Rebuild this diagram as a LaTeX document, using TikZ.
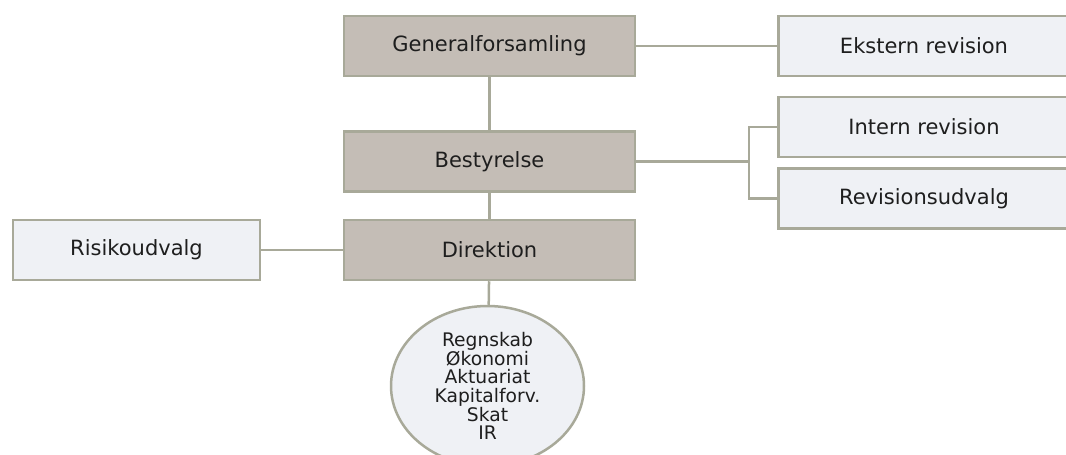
\documentclass[tikz,border=0pt]{standalone}
\usepackage{fontspec}
\setmainfont{DejaVu Sans}
\usetikzlibrary{shapes.geometric}

\definecolor{boardfill}{HTML}{C4BDB6}
\definecolor{sidefill}{HTML}{EFF1F5}
\definecolor{edgegray}{HTML}{A8A999}
\definecolor{txtgray}{HTML}{1E1E1E}

\tikzset{
  orgbox/.style={draw=edgegray, line width=2.5pt, fill=boardfill, text=txtgray,
    minimum width=291pt, minimum height=60pt, inner sep=0pt,
    font=\fontsize{21pt}{25pt}\selectfont},
  sidebox/.style={orgbox, fill=sidefill},
  orgline/.style={draw=edgegray, line width=2.5pt}
}

\begin{document}
\begin{tikzpicture}[x=1pt, y=-1pt]
        % ==== CANVAS ====
        \useasboundingbox (0,0) rectangle (1066,455);

        % ==== MAIN CHAIN ====
        \node[orgbox] (gf) at (489.5,46) {Generalforsamling};
        \node[orgbox] (best) at (489.5,161.5) {Bestyrelse};
        \node[orgbox] (dir) at (489.5,250) {Direktion};

        % ==== SIDE BOXES ====
        \node[sidebox] (ekst) at (924,46) {Ekstern revision};
        \node[sidebox] (intrev) at (924,127) {Intern revision};
        \node[sidebox] (revudv) at (924,198.5) {Revisionsudvalg};
        \node[sidebox, minimum width=247pt] (risiko) at (136.5,250) {Risikoudvalg};

        % ==== DEPARTMENTS ====
        \node[ellipse, draw=edgegray, line width=2.5pt, fill=sidefill, text=txtgray,
          minimum width=193pt, minimum height=160pt, inner sep=0pt, align=center,
          font=\fontsize{18.7pt}{18.6pt}\selectfont] (afd) at (487.5,386)
          {Regnskab\\Økonomi\\Aktuariat\\Kapitalforv.\\Skat\\IR};

        % ==== CONNECTORS ====
        \coordinate (brk) at (749,161.5);
        \draw[orgline] (gf) -- (best);
        \draw[orgline] (best) -- (dir);
        \draw[orgline] (dir) -- (afd);
        \draw[orgline] (gf.east) -- (ekst.west);
        \draw[orgline] (risiko.east) -- (dir.west);
        \draw[orgline] (best.east) -- (brk);
        \draw[orgline] (intrev.west) -| (brk) |- (revudv.west);
    \end{tikzpicture}
\end{document}
